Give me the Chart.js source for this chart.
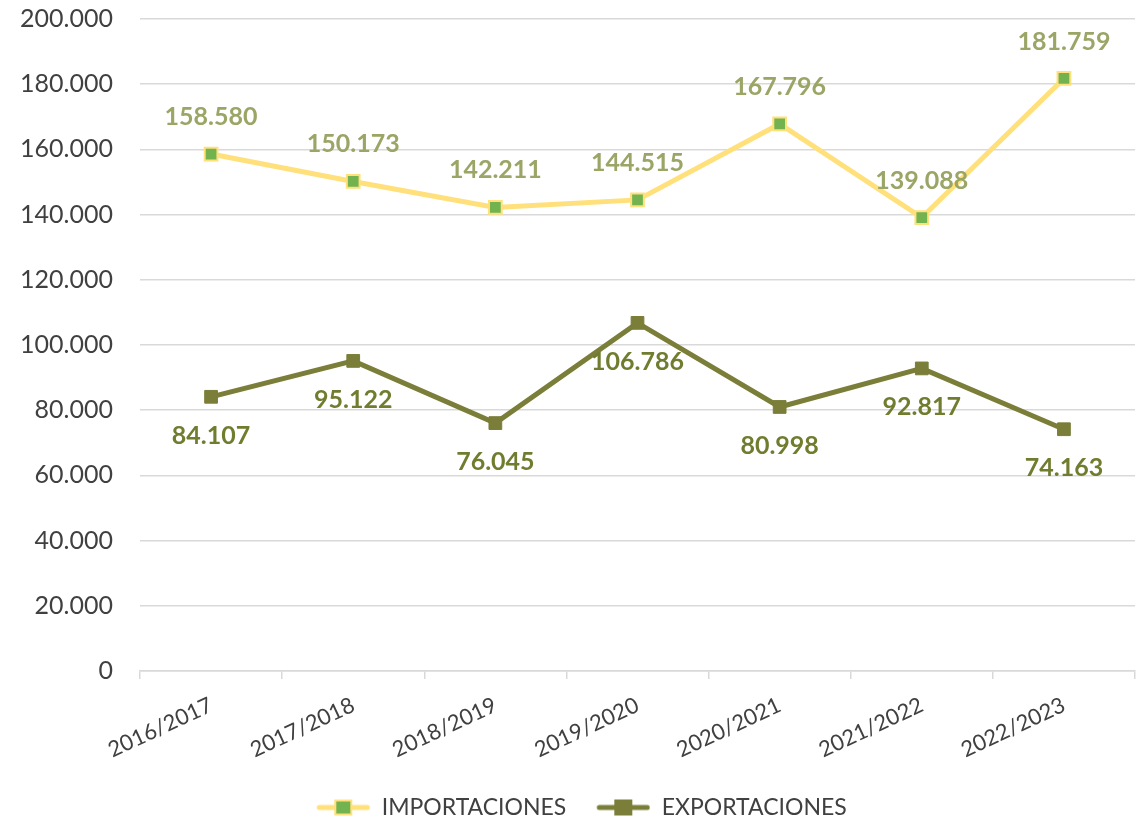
<!DOCTYPE html>
<html>
<head>
<meta charset="utf-8">
<script src="https://cdn.jsdelivr.net/npm/chart.js@4.4.0/dist/chart.umd.min.js"></script>
<style>
  html, body { margin: 0; padding: 0; background: #fff; }
  #wrap { width: 1146px; height: 822px; }
</style>
</head>
<body>
<div id="wrap"><canvas id="myChart"></canvas></div>
<script>
// data
const seasons = ['2016/2017', '2017/2018', '2018/2019', '2019/2020', '2020/2021', '2021/2022', '2022/2023'];
const importaciones = [158580, 150173, 142211, 144515, 167796, 139088, 181759];
const exportaciones = [84107, 95122, 76045, 106786, 80998, 92817, 74163];
const yTicks = [0, 20000, 40000, 60000, 80000, 100000, 120000, 140000, 160000, 180000, 200000];

const fmt = v => v.toLocaleString('de-DE');

// little line+square icon for the legend (blank space on the left = gap to previous item)
function legendIcon(lineColor, fill, border) {
    const c = document.createElement('canvas');
    c.width = 80; c.height = 20;
    const g = c.getContext('2d');
    g.strokeStyle = lineColor;
    g.lineWidth = 5;
    g.lineCap = 'round';
    g.beginPath(); g.moveTo(29, 10); g.lineTo(77, 10); g.stroke();
    g.fillStyle = border;
    g.fillRect(44, 2, 18, 16);
    g.fillStyle = fill;
    g.fillRect(46, 4, 14, 12);
    return c;
}
const icons = [
    legendIcon('#FFE07A', '#72B350', '#FFE07A'),
    legendIcon('#7A7E38', '#7A7E38', '#7A7E38')
];

// value labels above / below each point
const valueLabels = {
    id: 'valueLabels',
    afterDatasetsDraw(chart) {
        const ctx = chart.ctx;
        ctx.save();
        ctx.font = 'bold 25px Lato';
        ctx.textAlign = 'center';
        ctx.textBaseline = 'middle';
        chart.data.datasets.forEach((ds, i) => {
            const meta = chart.getDatasetMeta(i);
            ctx.fillStyle = ds.labelColor;
            meta.data.forEach((pt, j) => {
                ctx.fillText(fmt(ds.data[j]), pt.x, pt.y + ds.labelOffset);
            });
        });
        ctx.restore();
    }
};

const ctx = document.getElementById('myChart').getContext('2d');
const myChart = new Chart(ctx, {
    type: 'line',
    data: {
        labels: seasons,
        datasets: [{
            label: 'IMPORTACIONES',
            data: importaciones,
            borderColor: '#FFE07A',
            borderWidth: 5,
            pointStyle: 'rect',
            pointRadius: 9,
            pointBackgroundColor: '#72B350',
            pointBorderColor: '#FFE07A',
            pointBorderWidth: 2,
            tension: 0,
            labelColor: '#9AA566',
            labelOffset: -37
        }, {
            label: 'EXPORTACIONES',
            data: exportaciones,
            borderColor: '#7A7E38',
            borderWidth: 5,
            pointStyle: 'rect',
            pointRadius: 9,
            pointBackgroundColor: '#7A7E38',
            pointBorderColor: '#7A7E38',
            pointBorderWidth: 1,
            tension: 0,
            labelColor: '#717C2F',
            labelOffset: 39
        }]
    },
    options: {
        responsive: true,
        maintainAspectRatio: false,
        animation: false,
        layout: { padding: { top: 19, right: 9, left: 0, bottom: -7 } },
        scales: {
            x: {
                offset: true,
                grid: { offset: true, display: true, drawOnChartArea: false, color: '#D9D9D9', lineWidth: 1.5, tickLength: 8 },
                border: { color: '#D9D9D9', width: 1.5 },
                ticks: {
                    color: '#404040',
                    font: { family: 'Lato', size: 22 },
                    minRotation: 25,
                    maxRotation: 25,
                    padding: 13
                },
                afterFit(scale) { scale.height = 121; }
            },
            y: {
                min: 0,
                max: 200000,
                afterBuildTicks(scale) { scale.ticks = yTicks.map(v => ({ value: v })); },
                // invisible tick marks push the labels left without adding top padding
                grid: { color: '#D9D9D9', lineWidth: 1.5, drawTicks: true, tickLength: 27, tickColor: 'rgba(0,0,0,0)' },
                border: { display: false },
                ticks: {
                    color: '#404040',
                    font: { family: 'Lato', size: 25 },
                    padding: 0,
                    callback: v => fmt(v)
                },
                afterFit(scale) { scale.width = 140; }
            }
        },
        plugins: {
            legend: {
                position: 'bottom',
                labels: {
                    usePointStyle: true,
                    pointStyleWidth: 80,
                    color: '#404040',
                    font: { family: 'Lato', size: 23 },
                    padding: 4,
                    generateLabels(chart) {
                        const items = Chart.defaults.plugins.legend.labels.generateLabels(chart);
                        items.forEach((it, i) => { it.pointStyle = icons[i]; });
                        return items;
                    }
                }
            },
            tooltip: { enabled: false }
        }
    },
    plugins: [valueLabels]
});
</script>
</body>
</html>
